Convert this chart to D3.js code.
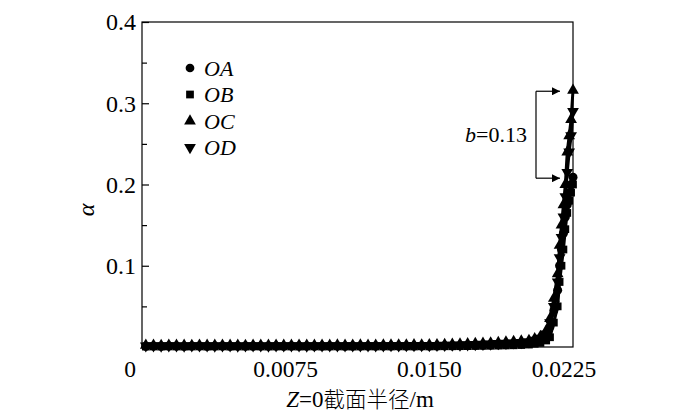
<!DOCTYPE html>
<html><head><meta charset="utf-8">
<script src="https://cdn.jsdelivr.net/npm/d3@7/dist/d3.min.js"></script>
<style>body{margin:0;background:#fff}svg{display:block}</style>
</head><body><svg id="c" width="700" height="414"></svg>
<script>
const radius = [0.0002,0.0006,0.0010,0.0014,0.0018,0.0022,0.0026,0.0030,0.0034,0.0038,
0.0042,0.0046,0.0050,0.0054,0.0058,0.0062,0.0066,0.0070,0.0074,0.0078,
0.0082,0.0086,0.0090,0.0094,0.0098,0.0102,0.0106,0.0110,0.0114,0.0118,
0.0122,0.0126,0.0130,0.0134,0.0138,0.0142,0.0146,0.0150,0.0154,0.0158,
0.0162,0.0166,0.0170,0.0174,0.0178,0.0182,0.0186,0.0190,0.0194,0.0198,
0.0202,0.0205,0.0208,0.0211,0.0213,0.0215,0.0217,0.0218,0.0219,0.0220,0.0221,0.0222,0.0223,0.0224,0.0225];

const OA = [0.0010,0.0011,0.0010,0.0012,0.0011,0.0010,0.0012,0.0011,0.0010,0.0011,
0.0012,0.0010,0.0011,0.0012,0.0010,0.0011,0.0012,0.0011,0.0010,0.0012,
0.0011,0.0012,0.0010,0.0011,0.0012,0.0011,0.0010,0.0012,0.0011,0.0012,
0.0011,0.0012,0.0013,0.0012,0.0011,0.0013,0.0012,0.0013,0.0012,0.0014,
0.0014,0.0016,0.0018,0.0020,0.0022,0.0025,0.0028,0.0031,0.0034,0.0038,
0.0045,0.0060,0.0080,0.0120,0.0250,0.0450,0.0700,0.1000,0.1200,0.1400,0.1600,0.1750,0.1900,0.2000,0.2090];
const OB = [0.0005,0.0006,0.0005,0.0007,0.0006,0.0005,0.0006,0.0007,0.0005,0.0006,
0.0007,0.0005,0.0006,0.0005,0.0007,0.0006,0.0005,0.0006,0.0007,0.0006,
0.0005,0.0006,0.0007,0.0005,0.0006,0.0007,0.0006,0.0005,0.0006,0.0007,
0.0006,0.0007,0.0006,0.0008,0.0007,0.0006,0.0008,0.0007,0.0008,0.0009,
0.0009,0.0010,0.0011,0.0012,0.0014,0.0015,0.0017,0.0019,0.0021,0.0024,
0.0030,0.0040,0.0050,0.0080,0.0120,0.0300,0.0500,0.0800,0.1000,0.1200,0.1450,0.1650,0.1800,0.1900,0.2000];
const OC = [0.0020,0.0021,0.0019,0.0022,0.0020,0.0021,0.0019,0.0022,0.0021,0.0020,
0.0022,0.0020,0.0021,0.0019,0.0022,0.0021,0.0020,0.0022,0.0021,0.0020,
0.0022,0.0021,0.0020,0.0022,0.0021,0.0023,0.0021,0.0022,0.0023,0.0021,
0.0022,0.0024,0.0023,0.0025,0.0024,0.0026,0.0025,0.0027,0.0028,0.0030,
0.0032,0.0035,0.0038,0.0042,0.0046,0.0050,0.0055,0.0060,0.0066,0.0072,
0.0080,0.0100,0.0130,0.0200,0.0350,0.0600,0.0900,0.1250,0.1500,0.1750,0.2000,0.2400,0.2600,0.2800,0.3160];
const OD = [0.0015,0.0016,0.0014,0.0016,0.0015,0.0014,0.0016,0.0015,0.0016,0.0014,
0.0015,0.0016,0.0014,0.0015,0.0016,0.0015,0.0014,0.0016,0.0015,0.0016,
0.0015,0.0014,0.0016,0.0015,0.0016,0.0015,0.0017,0.0016,0.0015,0.0017,
0.0016,0.0017,0.0018,0.0017,0.0018,0.0019,0.0018,0.0020,0.0021,0.0022,
0.0024,0.0026,0.0029,0.0032,0.0035,0.0039,0.0043,0.0047,0.0052,0.0057,
0.0065,0.0085,0.0110,0.0160,0.0300,0.0500,0.0800,0.1100,0.1350,0.1600,0.1850,0.2150,0.2400,0.2600,0.2900];

const seriesNames = ["OA","OB","OC","OD"];
const seriesValues = [OA, OB, OC, OD];
const xTicks = [0.0075, 0.0150, 0.0225];
const xTickLabels = ["0.0075","0.0150","0.0225"];
const yTicks = [0.1, 0.2, 0.3, 0.4];
const yMinorTicks = [0.05, 0.15, 0.25, 0.35];
const annotationLow = 0.209, annotationHigh = 0.316;

const svg = d3.select("#c");
const L = 142, R = 573, T = 22, B = 347;
const x = d3.scaleLinear().domain([0, 0.0225]).range([L, R]);
const y = d3.scaleLinear().domain([0, 0.4]).range([B, T]);
const serif = "'Liberation Serif','Times New Roman',serif";

// frame
svg.append("rect").attr("x", L).attr("y", T).attr("width", R - L).attr("height", B - T)
  .attr("fill", "none").attr("stroke", "#000").attr("stroke-width", 1.2);

// y ticks (inward)
svg.append("g").attr("transform", `translate(${L},0)`)
  .call(d3.axisRight(y).tickValues(yTicks).tickSize(7).tickFormat(""))
  .call(g => g.select(".domain").remove()).selectAll("line").attr("stroke-width", 1.2);
svg.append("g").attr("transform", `translate(${L},0)`)
  .call(d3.axisRight(y).tickValues(yMinorTicks).tickSize(5).tickFormat(""))
  .call(g => g.select(".domain").remove()).selectAll("line").attr("stroke-width", 1.2);

svg.append("g").selectAll("text").data(yTicks).join("text")
  .attr("x", L - 6).attr("y", d => y(d)).attr("dy", "0.35em")
  .attr("text-anchor", "end").attr("font-family", serif).attr("font-size", 24)
  .text(d => d.toFixed(1));

// x tick labels
svg.append("g").selectAll("text").data(xTicks).join("text")
  .attr("x", d => x(d)).attr("dx", (d, i) => i === xTicks.length - 1 ? -9 : 0).attr("y", 377)
  .attr("text-anchor", "middle").attr("font-family", serif).attr("font-size", 23.5)
  .text((d, i) => xTickLabels[i]);
svg.append("text").attr("x", x(0) - 12).attr("y", 377).attr("text-anchor", "middle")
  .attr("font-family", serif).attr("font-size", 23.5).text("0");

// axis titles
const xt = svg.append("text").attr("x", 360).attr("y", 407).attr("text-anchor", "middle")
  .attr("font-size", 23).attr("font-family", serif);
xt.append("tspan").attr("font-style", "italic").text("Z");
xt.append("tspan").text("=0");
xt.append("tspan").attr("font-family", "'Noto Sans CJK SC'").attr("font-weight", 300).attr("font-size", 21.5).text("截面半径");
xt.append("tspan").text("/m");

svg.append("text").attr("transform", "translate(94,210) rotate(-90)")
  .attr("text-anchor", "middle").attr("font-family", serif).attr("font-size", 24)
  .attr("font-style", "italic").text("α");

// symbols
const symTypes = [d3.symbolCircle, d3.symbolSquare, d3.symbolTriangle, d3.symbolTriangle];
const symSizes = [64, 60, 60, 60];
const symRot = [0, 0, 0, 180];

const line = d3.line().x((d, i) => x(radius[i])).y(d => y(d));
seriesValues.forEach((vals, si) => {
  svg.append("path").datum(vals).attr("d", line).attr("fill", "none")
    .attr("stroke", "#000").attr("stroke-width", 3);
});
seriesValues.forEach((vals, si) => {
  svg.append("g").selectAll("path").data(vals).join("path")
    .attr("d", d3.symbol(symTypes[si], symSizes[si]))
    .attr("transform", (d, i) => `translate(${x(radius[i])},${y(d)}) rotate(${symRot[si]})`)
    .attr("fill", "#000");
});

// legend
const lg = svg.append("g");
seriesNames.forEach((n, i) => {
  const yy = 68 + i * 26.5;
  lg.append("path").attr("d", d3.symbol(symTypes[i], 60))
    .attr("transform", `translate(190,${yy}) rotate(${symRot[i]})`).attr("fill", "#000");
  lg.append("text").attr("x", 204).attr("y", yy).attr("dy", "0.35em")
    .attr("font-family", serif).attr("font-style", "italic").attr("font-size", 22).text(n);
});

// annotation bracket
const defs = svg.append("defs");
defs.append("marker").attr("id", "ah").attr("viewBox", "0 0 10 10").attr("refX", 10).attr("refY", 5)
  .attr("markerWidth", 9).attr("markerHeight", 8).attr("markerUnits", "userSpaceOnUse").attr("orient", "auto")
  .append("path").attr("d", "M0,0L10,5L0,10Z").attr("fill", "#000");
const bx = 536, ax = 560;
const yHi = y(annotationHigh) + 1, yLo = y(annotationLow) + 1;
svg.append("path").attr("d", `M${bx},${yHi}V${yLo}`).attr("stroke", "#000").attr("stroke-width", 1.2).attr("fill", "none");
[yHi, yLo].forEach(yy => {
  svg.append("line").attr("x1", bx).attr("x2", ax).attr("y1", yy).attr("y2", yy)
    .attr("stroke", "#000").attr("stroke-width", 1.2).attr("marker-end", "url(#ah)");
});
const bt = svg.append("text").attr("x", 527).attr("y", (yHi + yLo) / 2).attr("dy", "0.35em")
  .attr("text-anchor", "end").attr("font-family", serif).attr("font-size", 22);
bt.append("tspan").attr("font-style", "italic").text("b");
bt.append("tspan").text("=0.13");
</script></body></html>
